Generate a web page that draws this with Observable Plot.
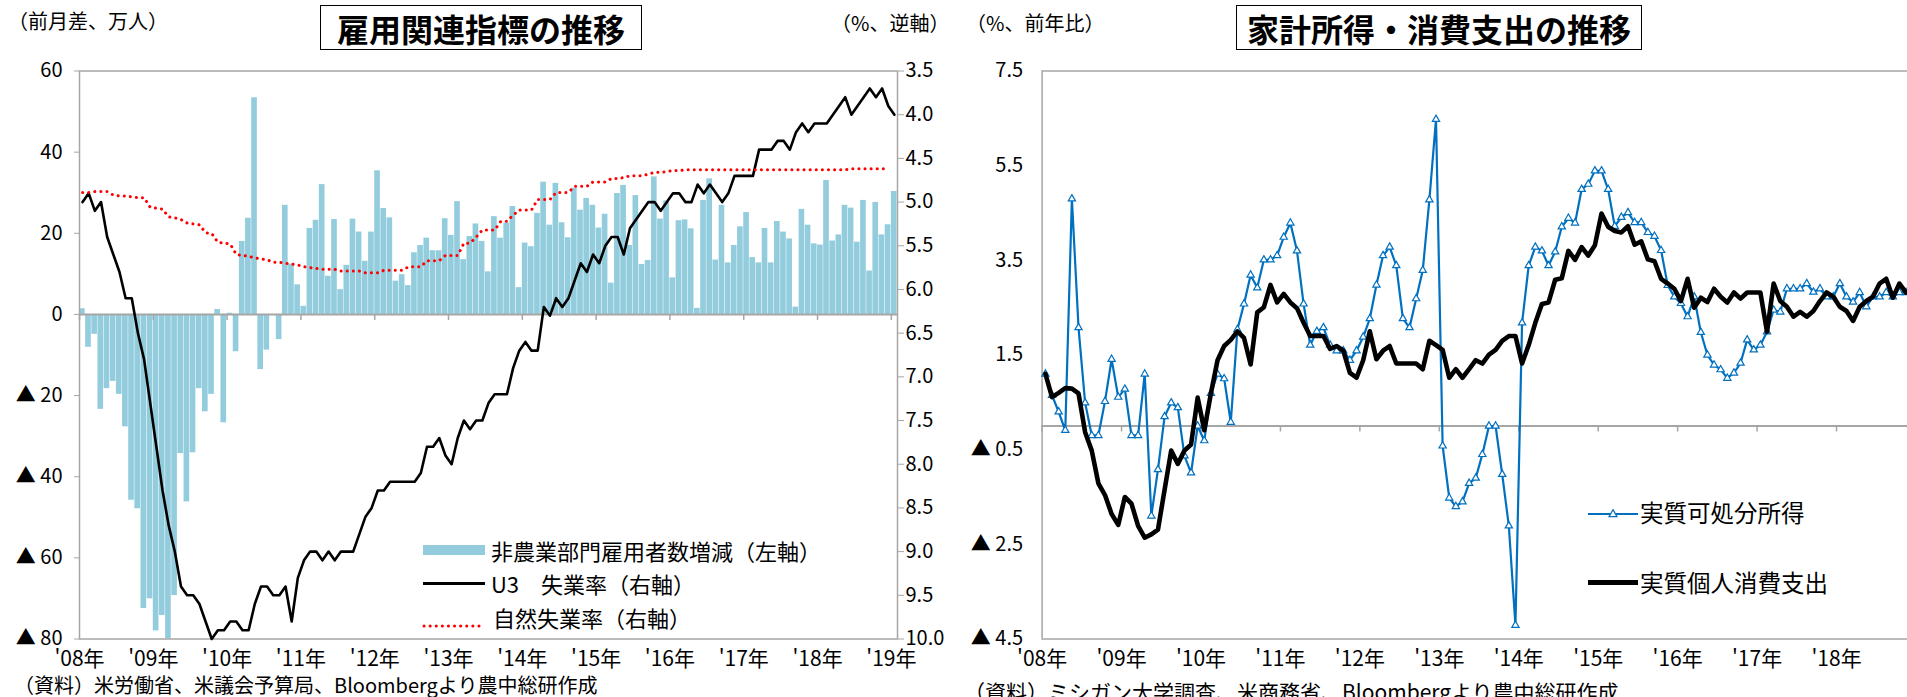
<!DOCTYPE html>
<html lang="ja">
<head>
<meta charset="utf-8">
<script src="https://cdn.jsdelivr.net/npm/d3@7"></script>
<script src="https://cdn.jsdelivr.net/npm/@observablehq/plot@0.6"></script>
<style>
  html, body { margin: 0; padding: 0; background: #fff; }
  #page { position: relative; width: 1907px; height: 697px; overflow: hidden;
          font-family: "Noto Sans CJK JP", "Noto Sans", sans-serif; color: #000; background: #fff; }
  .abs { position: absolute; white-space: nowrap; line-height: 1; }
  .box { position: absolute; border: 1.5px solid #000; box-sizing: border-box; display: flex;
         align-items: center; justify-content: center; font-weight: bold; font-size: 32px; line-height: 1; background: #fff; }
  svg.plot-layer { position: absolute; top: 0; background: transparent !important; overflow: visible; }
</style>
</head>
<body>
<div id="page"></div>
<script>
// ---- 雇用関連指標 (monthly, Jan 2008 – Jan 2019) ----
// 非農業部門雇用者数 前月差（万人）
const payrolls = [
  1.4, -8.1, -4.9, -23.4, -18.3, -16.5, -19.7, -27.7, -45.8, -47.9, -72.5, -70.1,
  -78.0, -74.2, -80.0, -69.3, -34.3, -46.2, -34.1, -18.3, -24.0, -19.7, 1.2, -26.7,
  0.3, -9.2, 18.0, 23.7, 53.4, -13.6, -8.8, 0.0, -6.2, 26.9, 12.4, 7.3,
  2.0, 21.2, 23.2, 32.0, 9.4, 23.4, 6.1, 12.1, 23.5, 20.3, 13.1, 20.3,
  35.4, 26.1, 23.8, 8.2, 9.8, 7.1, 15.2, 17.0, 18.8, 15.7, 15.7, 23.6,
  19.5, 27.8, 13.5, 19.2, 22.3, 18.0, 10.5, 24.1, 18.8, 22.5, 26.6, 6.6,
  17.6, 16.7, 24.9, 32.6, 22.0, 32.3, 22.6, 18.9, 31.1, 25.7, 28.6, 26.9,
  21.3, 24.7, 7.7, 29.8, 31.8, 17.0, 29.3, 12.3, 13.3, 33.9, 23.5, 28.0,
  9.0, 23.1, 23.3, 21.1, 1.5, 28.1, 33.4, 13.4, 26.9, 12.7, 17.0, 21.6,
  25.1, 14.0, 12.7, 21.2, 12.7, 22.9, 20.3, 18.6, 1.8, 25.9, 22.0, 17.4,
  17.1, 33.0, 18.1, 19.6, 26.9, 26.2, 17.8, 28.1, 10.7, 27.6, 19.6, 22.1,
  30.3
];
// U3 失業率（%）
const unemployment = [
  5.0, 4.9, 5.1, 5.0, 5.4, 5.6, 5.8, 6.1, 6.1, 6.5, 6.8, 7.3,
  7.8, 8.3, 8.7, 9.0, 9.4, 9.5, 9.5, 9.6, 9.8, 10.0, 9.9, 9.9,
  9.8, 9.8, 9.9, 9.9, 9.6, 9.4, 9.4, 9.5, 9.5, 9.4, 9.8, 9.3,
  9.1, 9.0, 9.0, 9.1, 9.0, 9.1, 9.0, 9.0, 9.0, 8.8, 8.6, 8.5,
  8.3, 8.3, 8.2, 8.2, 8.2, 8.2, 8.2, 8.1, 7.8, 7.8, 7.7, 7.9,
  8.0, 7.7, 7.5, 7.6, 7.5, 7.5, 7.3, 7.2, 7.2, 7.2, 6.9, 6.7,
  6.6, 6.7, 6.7, 6.2, 6.3, 6.1, 6.2, 6.1, 5.9, 5.7, 5.8, 5.6,
  5.7, 5.5, 5.4, 5.4, 5.6, 5.3, 5.2, 5.1, 5.0, 5.0, 5.1, 5.0,
  4.9, 4.9, 5.0, 5.0, 4.8, 4.9, 4.8, 4.9, 5.0, 4.9, 4.7, 4.7,
  4.7, 4.7, 4.4, 4.4, 4.4, 4.3, 4.3, 4.4, 4.2, 4.1, 4.2, 4.1,
  4.1, 4.1, 4.0, 3.9, 3.8, 4.0, 3.9, 3.8, 3.7, 3.8, 3.7, 3.9,
  4.0
];
// 自然失業率（%）
const naturalRate = [
  4.89, 4.89, 4.88, 4.88, 4.88, 4.92, 4.93, 4.93, 4.94, 4.95, 4.95, 5.06,
  5.07, 5.08, 5.17, 5.18, 5.20, 5.24, 5.25, 5.26, 5.35, 5.36, 5.46, 5.47,
  5.48, 5.60, 5.61, 5.62, 5.64, 5.65, 5.66, 5.69, 5.69, 5.70, 5.71, 5.72,
  5.74, 5.75, 5.76, 5.77, 5.77, 5.77, 5.79, 5.79, 5.79, 5.79, 5.81, 5.81,
  5.81, 5.78, 5.78, 5.78, 5.78, 5.74, 5.74, 5.74, 5.67, 5.67, 5.67, 5.61,
  5.61, 5.61, 5.47, 5.47, 5.40, 5.32, 5.32, 5.32, 5.22, 5.22, 5.15, 5.09,
  5.09, 5.09, 4.97, 4.97, 4.97, 4.89, 4.89, 4.89, 4.82, 4.82, 4.82, 4.77,
  4.77, 4.77, 4.73, 4.73, 4.72, 4.70, 4.70, 4.70, 4.68, 4.66, 4.66, 4.65,
  4.64, 4.64, 4.63, 4.63, 4.63, 4.63, 4.63, 4.63, 4.63, 4.63, 4.63, 4.63,
  4.63, 4.63, 4.63, 4.63, 4.63, 4.63, 4.63, 4.63, 4.63, 4.63, 4.63, 4.63,
  4.63, 4.63, 4.63, 4.63, 4.63, 4.62, 4.62, 4.62, 4.62, 4.62, 4.62, 4.62
];

// ---- 家計所得・消費支出 (前年比 %, monthly from Jan 2008) ----
// 実質可処分所得
const disposableIncome = [
  1.10, 0.65, 0.30, -0.09, 4.80, 2.08, 0.49, -0.20, -0.20, 0.52, 1.41, 0.61,
  0.78, -0.20, -0.20, 1.10, -1.90, -0.92, 0.20, 0.49, 0.39, -0.63, -0.99, 0.00,
  -0.31, 0.69, 1.10, 1.00, 0.08, 2.04, 2.58, 3.19, 2.92, 3.51, 3.51, 3.60,
  3.99, 4.29, 3.70, 2.58, 1.71, 2.00, 2.08, 1.71, 1.59, 1.59, 1.39, 1.59,
  1.88, 2.27, 2.98, 3.60, 3.78, 3.39, 2.27, 2.08, 2.69, 3.29, 4.78, 6.48,
  -0.42, -1.52, -1.70, -1.60, -1.21, -1.10, -0.60, 0.00, 0.00, -1.02, -2.11, -4.21,
  2.18, 3.39, 3.78, 3.70, 3.39, 3.68, 4.21, 4.39, 4.29, 5.00, 5.11, 5.39,
  5.39, 5.00, 4.22, 4.41, 4.51, 4.30, 4.30, 4.09, 4.01, 3.71, 2.97, 2.73,
  2.59, 2.31, 2.73, 1.98, 1.50, 1.29, 1.19, 1.01, 1.12, 1.33, 1.82, 1.61,
  1.71, 1.99, 2.45, 2.41, 2.90, 2.90, 2.90, 3.01, 2.83, 2.90, 2.73, 2.73,
  3.01, 2.73, 2.62, 2.82, 2.52, 2.73, 2.73, 2.82, 2.73, 2.82, 2.82
];
// 実質個人消費支出
const consumption = [
  1.10, 0.61, 0.70, 0.80, 0.79, 0.69, -0.13, -0.52, -1.21, -1.46, -1.86, -2.09,
  -1.50, -1.64, -2.11, -2.36, -2.29, -2.19, -1.35, -0.52, -0.80, -0.52, -0.39, 0.60,
  -0.09, 0.69, 1.39, 1.69, 1.82, 2.00, 1.86, 1.30, 2.40, 2.51, 2.98, 2.61,
  2.79, 2.61, 2.49, 2.18, 1.90, 1.90, 1.90, 1.63, 1.69, 1.59, 1.12, 1.02,
  1.39, 2.00, 1.41, 1.59, 1.69, 1.32, 1.32, 1.32, 1.32, 1.20, 1.80, 1.71,
  1.61, 1.02, 1.20, 1.02, 1.20, 1.39, 1.32, 1.51, 1.61, 1.80, 1.90, 1.90,
  1.32, 1.71, 2.18, 2.58, 2.61, 3.09, 3.12, 3.70, 3.51, 3.78, 3.60, 3.82,
  4.49, 4.21, 4.12, 4.09, 4.22, 3.83, 3.90, 3.52, 3.48, 3.11, 3.01, 2.90,
  2.64, 3.11, 2.50, 2.71, 2.62, 2.90, 2.73, 2.61, 2.82, 2.69, 2.82, 2.82,
  2.82, 1.99, 3.01, 2.64, 2.52, 2.31, 2.41, 2.31, 2.43, 2.64, 2.82, 2.73,
  2.52, 2.43, 2.22, 2.52, 2.64, 2.73, 3.01, 3.11, 2.71, 3.01, 2.82
];

// ---- axis ticks and labels ----
const payrollTicks = [60, 40, 20, 0, -20, -40, -60, -80];
const payrollLabels = ["60", "40", "20", "0", "▲ 20", "▲ 40", "▲ 60", "▲ 80"];
const rateTicks = [3.5, 4.0, 4.5, 5.0, 5.5, 6.0, 6.5, 7.0, 7.5, 8.0, 8.5, 9.0, 9.5, 10.0];
const rateLabels = ["3.5", "4.0", "4.5", "5.0", "5.5", "6.0", "6.5", "7.0", "7.5", "8.0", "8.5", "9.0", "9.5", "10.0"];
const growthTicks = [7.5, 5.5, 3.5, 1.5, -0.5, -2.5, -4.5];
const growthLabels = ["7.5", "5.5", "3.5", "1.5", "▲ 0.5", "▲ 2.5", "▲ 4.5"];
const leftYearLabels = ["'08年", "'09年", "'10年", "'11年", "'12年", "'13年", "'14年", "'15年", "'16年", "'17年", "'18年", "'19年"];
const rightYearLabels = ["'08年", "'09年", "'10年", "'11年", "'12年", "'13年", "'14年", "'15年", "'16年", "'17年", "'18年"];

// ---- helpers ----
const FONT = '"Noto Sans CJK JP", "Noto Sans", sans-serif';
const GRAY = "#a6a6a6";
const asMonths = (arr) => arr.map((v, m) => ({m, v}));
const labelFor = (ticks, labels) => (d) => labels[ticks.indexOf(d)];
const page = document.getElementById("page");

function place(svg, left) {
  svg.classList.add("plot-layer");
  svg.style.left = left + "px";
  page.appendChild(svg);
}
function text(str, left, top, size, extra = "") {
  const el = document.createElement("div");
  el.className = "abs";
  el.style.cssText = `left:${left}px;top:${top}px;font-size:${size}px;${extra}`;
  el.textContent = str;
  page.appendChild(el);
  return el;
}
function html(markup, left, top) {
  const el = document.createElement("div");
  el.className = "abs";
  el.style.cssText = `left:${left}px;top:${top}px;`;
  el.innerHTML = markup;
  page.appendChild(el);
}

// ================= 左: 雇用関連指標の推移 =================
const leftFrame = {width: 960, height: 697, marginLeft: 79, marginRight: 63, marginTop: 70.5, marginBottom: 58.5};
const leftYearTicks = leftYearLabels.map((_, i) => i * 12);
const monthDomain = [0, 133];

// bars + left axis
place(Plot.plot({
  ...leftFrame,
  style: {fontFamily: FONT, fontSize: "20px", background: "transparent", color: "#000", overflow: "visible"},
  x: {domain: monthDomain, axis: null},
  y: {domain: [-80, 60], axis: null},
  marks: [
    Plot.rect(asMonths(payrolls), {x1: "m", x2: (d) => d.m + 1, y1: 0, y2: "v", fill: "#93cddd", insetRight: 0.5}),
    Plot.ruleY([0], {stroke: GRAY, strokeWidth: 2}),
    Plot.ruleX(leftYearTicks, {x: (d) => d, y1: 0, y2: 0, insetBottom: -6, stroke: GRAY, strokeWidth: 1.5}),
    Plot.frame({stroke: GRAY, strokeWidth: 1.5}),
    Plot.axisY({anchor: "left", ticks: payrollTicks, tickFormat: labelFor(payrollTicks, payrollLabels),
                tickSize: 5, tickPadding: 12, stroke: GRAY, fontSize: 20, label: null}),
    Plot.axisX({anchor: "bottom", ticks: leftYearTicks, tickFormat: (d) => leftYearLabels[d / 12],
                tickSize: 0, tickPadding: 12, fontSize: 21, label: null})
  ]
}), 0);

// unemployment lines + reversed right axis
place(Plot.plot({
  ...leftFrame,
  style: {fontFamily: FONT, fontSize: "20px", background: "transparent", color: "#000", overflow: "visible"},
  x: {domain: monthDomain, axis: null},
  y: {domain: [3.5, 10], reverse: true, axis: null},
  marks: [
    Plot.line(asMonths(unemployment), {x: (d) => d.m + 0.5, y: "v", stroke: "#000", strokeWidth: 2.6}),
    Plot.line(asMonths(naturalRate), {x: (d) => d.m + 0.5, y: "v", stroke: "#ff0000", strokeWidth: 3,
                                      strokeDasharray: "0.1 6", strokeLinecap: "round"}),
    Plot.axisY({anchor: "right", ticks: rateTicks, tickFormat: labelFor(rateTicks, rateLabels),
                tickSize: 6, tickPadding: 2, stroke: GRAY, fontSize: 20, label: null})
  ]
}), 0);

// ================= 右: 家計所得・消費支出の推移 =================
const rightYearTicks = rightYearLabels.map((_, i) => i * 12);
place(Plot.plot({
  width: 980, height: 697, marginLeft: 91.6, marginRight: 7.9, marginTop: 70.5, marginBottom: 58.5,
  style: {fontFamily: FONT, fontSize: "20px", background: "transparent", color: "#000", overflow: "visible"},
  x: {domain: monthDomain, axis: null},
  y: {domain: [-4.5, 7.5], axis: null},
  marks: [
    Plot.ruleY([0], {stroke: GRAY, strokeWidth: 2}),
    Plot.ruleX(rightYearTicks, {x: (d) => d, y1: 0, y2: 0, insetBottom: -6, stroke: GRAY, strokeWidth: 1.5}),
    Plot.frame({stroke: GRAY, strokeWidth: 1.5}),
    Plot.line(asMonths(disposableIncome), {x: (d) => d.m + 0.5, y: "v", stroke: "#0070c0", strokeWidth: 2.2}),
    Plot.dot(asMonths(disposableIncome), {x: (d) => d.m + 0.5, y: "v", symbol: "triangle", r: 2.7,
                                          fill: "#fff", stroke: "#0070c0", strokeWidth: 1.2}),
    Plot.line(asMonths(consumption), {x: (d) => d.m + 0.5, y: "v", stroke: "#000", strokeWidth: 4.6}),
    Plot.axisY({anchor: "left", ticks: growthTicks, tickFormat: labelFor(growthTicks, growthLabels),
                tickSize: 0, tickPadding: 19, fontSize: 20, label: null}),
    Plot.axisX({anchor: "bottom", ticks: rightYearTicks, tickFormat: (d) => rightYearLabels[d / 12],
                tickSize: 0, tickPadding: 12, fontSize: 21, label: null})
  ]
}), 950);

// ---- titles, units, legends, sources ----
const box1 = document.createElement("div");
box1.className = "box";
box1.style.cssText = "left:320px;top:5px;width:322px;height:45px;";
box1.textContent = "雇用関連指標の推移";
page.appendChild(box1);

const box2 = document.createElement("div");
box2.className = "box";
box2.style.cssText = "left:1236px;top:5px;width:406px;height:45px;";
box2.textContent = "家計所得・消費支出の推移";
page.appendChild(box2);

text("（前月差、万人）", 8, 11, 20);
text("（%、逆軸）", 831, 13, 20);
text("（%、前年比）", 966, 13, 20);

// left legend
html('<div style="width:62px;height:10px;background:#93cddd"></div>', 423, 545);
text("非農業部門雇用者数増減（左軸）", 491, 539, 22);
html('<div style="width:62px;height:2.6px;background:#000"></div>', 423, 582);
text("U3　失業率（右軸）", 491, 572, 22);
html('<svg width="62" height="6"><line x1="2" y1="3" x2="60" y2="3" stroke="#ff0000" stroke-width="3" stroke-dasharray="0.1 6" stroke-linecap="round"/></svg>', 422, 614);
text("自然失業率（右軸）", 493, 606, 22);

// right legend
html('<svg width="50" height="14"><line x1="0" y1="7" x2="50" y2="7" stroke="#0070c0" stroke-width="2.2"/><path d="M25,2.6 L29,9.6 L21,9.6 Z" fill="#fff" stroke="#0070c0" stroke-width="1.2"/></svg>', 1588, 506);
text("実質可処分所得", 1640, 501, 23.5);
html('<div style="width:50px;height:5px;background:#000"></div>', 1588, 580);
text("実質個人消費支出", 1640, 571, 23.5);

// sources
text("（資料）米労働省、米議会予算局、Bloombergより農中総研作成", 14, 675, 20);
text("（資料）ミシガン大学調査、米商務省、Bloombergより農中総研作成", 964, 681, 21);
</script>
</body>
</html>
